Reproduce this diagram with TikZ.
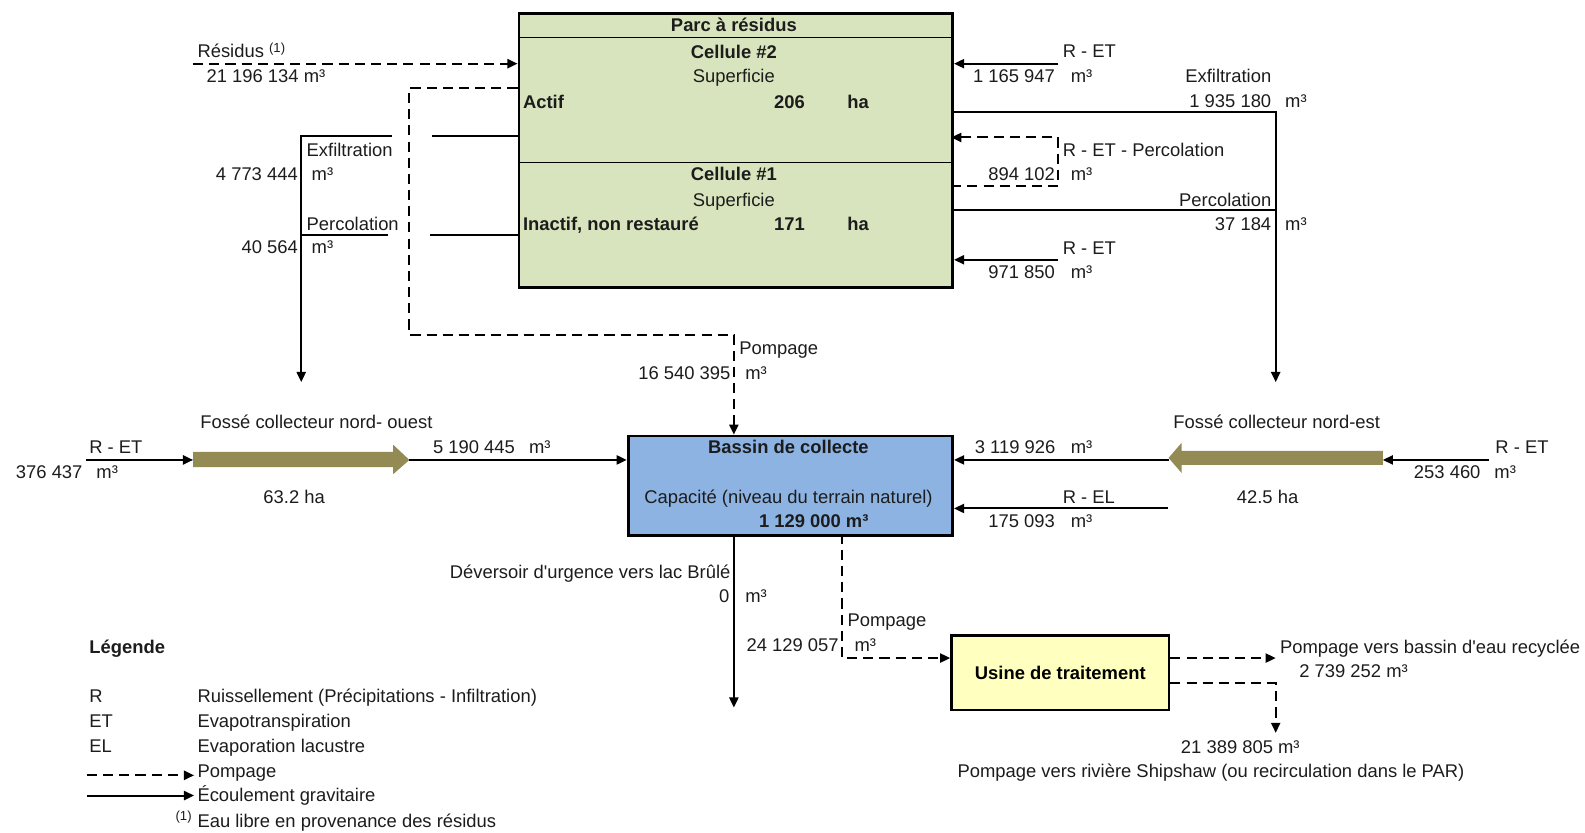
\documentclass[tikz,border=0pt]{standalone}
\usepackage{fontspec}
\setmainfont{Liberation Sans}[Ligatures=TeXOff]
\usetikzlibrary{arrows.meta}

\definecolor{vertparc}{HTML}{D7E4BD}
\definecolor{bleubassin}{HTML}{8DB3E2}
\definecolor{jauneusine}{HTML}{FFFFC0}
\definecolor{olivefosse}{HTML}{948A54}
\definecolor{encre}{HTML}{1C1C1C}

\newcommand{\fs}{\fontsize{9.1}{11}\selectfont}

\tikzset{
  ecoul/.style={-{Triangle[length=5pt,width=4.5pt]}, line width=1pt},
  pomp/.style={ecoul, dash pattern=on 5pt off 3pt},
  trait/.style={line width=1pt},
  boite/.style={draw, line width=1.4pt, inner sep=0pt, anchor=north west},
  lbl/.style={inner sep=0pt, text height=6.5pt, text depth=0.5pt, font=\fs, text=encre},
  gras/.style={lbl, font=\fs\bfseries},
}

\begin{document}
\begin{tikzpicture}[x=0.5pt, y=-0.5pt]
\useasboundingbox (0,0) rectangle (1568,824);

% Parc a residus (deux cellules)
\node[boite, fill=vertparc, minimum width=214.5pt, minimum height=135.5pt] (parc) at (512,12) {};
\draw[line width=0.6pt] (512,37) -- (941,37);
\draw[line width=0.6pt] (512,161) -- (941,161);
\node[gras] (titre) at (726,25) {Parc à résidus};
\node[gras] (cel2) at (726,52) {Cellule \#2};
\node[lbl] (sup2) at (726,76) {Superficie};
\node[gras, anchor=west] (actif) at (517,101) {Actif};
\node[gras] (s206) at (781,101) {206};
\node[gras] (ha2) at (849,101) {ha};
\node[gras] (cel1) at (726,173) {Cellule \#1};
\node[lbl] (sup1) at (726,198) {Superficie};
\node[gras, anchor=west] (inactif) at (517,222) {Inactif, non restauré};
\node[gras] (s171) at (781,222) {171};
\node[gras] (ha1) at (849,222) {ha};

% Bassin de collecte
\node[boite, fill=bleubassin, minimum width=160.5pt, minimum height=49pt] (bassin) at (620,430) {};
\node[gras] (bastit) at (780,443) {Bassin de collecte};
\node[lbl] (bascap) at (780,492) {Capacité (niveau du terrain naturel)};
\node[gras] (basvol) at (805,516) {1 129 000 m³};

% Usine de traitement
\node[boite, fill=jauneusine, minimum width=107.5pt, minimum height=37pt, font=\fs\bfseries] (usine) at (940,627) {Usine de traitement};

% Fosses collecteurs (grosses fleches)
\coordinate (fnoQ) at (191,455);
\coordinate (fnoT) at (405,455);
\fill[olivefosse] (191,447) -- (389,447) -- (389,440) -- (fnoT) -- (389,469) -- (389,462) -- (191,462) -- cycle;
\coordinate (fneQ) at (1368,453);
\coordinate (fneT) at (1156,453);
\fill[olivefosse] (1368,446) -- (1169,446) -- (1169,438) -- (fneT) -- (1169,468) -- (1169,460) -- (1368,460) -- cycle;

% Points de depart / d'arrivee
\coordinate (resA) at (191,63);
\coordinate (pompP) at (512,87);
\coordinate (pompB) at (726,430);
\coordinate (exfG) at (512,135);
\coordinate (perG) at (512,232);
\coordinate (chuteG) at (298,378);
\coordinate (retH) at (1047,63);
\coordinate (exfD) at (941,111);
\coordinate (perD) at (941,208);
\coordinate (chuteD) at (1262,378);
\coordinate (boucle) at (941,184);
\coordinate (retB) at (1047,257);
\coordinate (retNO) at (85,455);
\coordinate (retNE) at (1473,455);
\coordinate (relA) at (1155,503);
\coordinate (deversA) at (726,528);
\coordinate (deversF) at (726,700);
\coordinate (pompU) at (833,528);
\coordinate (recyF) at (1262,651);
\coordinate (shipF) at (1262,725);

% --- cote gauche
\draw[pomp] (resA) -- (resA -| parc.west);
\draw[pomp] (pompP) -- (405,87) -- (405,331) -- (726,331) -- (pompB);
\draw[trait] (exfG) -- (427,135);
\draw[ecoul] (388,135) -- (298,135) -- (chuteG);
\draw[trait] (perG) -- (425,232);
\draw[trait] (384,232) -- (298,232);

\node[lbl, anchor=west] (resL) at (195,51) {Résidus \raisebox{0.5ex}{\fontsize{6.5}{7}\selectfont(1)}};
\node[lbl, anchor=west] (resV) at (204,76) {21 196 134 m³};
\node[lbl, anchor=west] (exfGL) at (303,149) {Exfiltration};
\node[lbl, anchor=east] (exfGV) at (295,173) {4 773 444};
\node[lbl, anchor=west] (exfGU) at (308,173) {m³};
\node[lbl, anchor=west] (perGL) at (303,222) {Percolation};
\node[lbl, anchor=east] (perGV) at (295,245) {40 564};
\node[lbl, anchor=west] (perGU) at (308,245) {m³};
\node[lbl, anchor=west] (pompL) at (731,345) {Pompage};
\node[lbl, anchor=east] (pompV) at (723,369) {16 540 395};
\node[lbl, anchor=west] (pompU3) at (737,369) {m³};

% --- cote droit
\draw[ecoul] (retH) -- (retH -| parc.east);
\draw[ecoul] (exfD) -- (1262,111) -- (chuteD);
\draw[trait] (perD) -- (1262,208);
\draw[pomp] (boucle) -- (1047,184) -- (1047,136) -- (941,136);
\draw[ecoul] (retB) -- (retB -| parc.east);

\node[lbl, anchor=west] (retHL) at (1051,51) {R - ET};
\node[lbl, anchor=east] (retHV) at (1044,76) {1 165 947};
\node[lbl, anchor=west] (retHU) at (1059,76) {m³};
\node[lbl, anchor=east] (exfDL) at (1258,76) {Exfiltration};
\node[lbl, anchor=east] (exfDV) at (1258,100) {1 935 180};
\node[lbl, anchor=west] (exfDU) at (1271,100) {m³};
\node[lbl, anchor=west] (bouL) at (1051,149) {R - ET - Percolation};
\node[lbl, anchor=east] (bouV) at (1044,173) {894 102};
\node[lbl, anchor=west] (bouU) at (1059,173) {m³};
\node[lbl, anchor=east] (perDL) at (1258,198) {Percolation};
\node[lbl, anchor=east] (perDV) at (1258,222) {37 184};
\node[lbl, anchor=west] (perDU) at (1271,222) {m³};
\node[lbl, anchor=west] (retBL) at (1051,246) {R - ET};
\node[lbl, anchor=east] (retBV) at (1044,270) {971 850};
\node[lbl, anchor=west] (retBU) at (1059,270) {m³};

% --- rangee du bassin
\draw[ecoul] (retNO) -- (fnoQ);
\draw[ecoul] (fnoT) -- (fnoT -| bassin.west);
\draw[ecoul] (retNE) -- (fneQ |- retNE);
\draw[ecoul] (fneT |- 0,455) -- (bassin.east |- 0,455);
\draw[ecoul] (relA) -- (relA -| bassin.east);

\node[lbl] (fnoL) at (313,418) {Fossé collecteur nord- ouest};
\node[lbl] (fnoS) at (291,492) {63.2 ha};
\node[lbl, anchor=west] (retNOL) at (88,443) {R - ET};
\node[lbl, anchor=east] (retNOV) at (82,467) {376 437};
\node[lbl, anchor=west] (retNOU) at (95,467) {m³};
\node[lbl, anchor=west] (fnoV) at (428,443) {5 190 445};
\node[lbl, anchor=west] (fnoU) at (523,443) {m³};

\node[lbl] (fneL) at (1263,418) {Fossé collecteur nord-est};
\node[lbl] (fneS) at (1254,492) {42.5 ha};
\node[lbl, anchor=west] (retNEL) at (1479,443) {R - ET};
\node[lbl, anchor=east] (retNEV) at (1465,467) {253 460};
\node[lbl, anchor=west] (retNEU) at (1478,467) {m³};
\node[lbl, anchor=west] (fneV) at (964,443) {3 119 926};
\node[lbl, anchor=west] (fneU) at (1059,443) {m³};
\node[lbl, anchor=west] (relL) at (1051,492) {R - EL};
\node[lbl, anchor=east] (relV) at (1044,516) {175 093};
\node[lbl, anchor=west] (relU) at (1059,516) {m³};

% --- sorties du bassin et de l'usine
\draw[ecoul] (deversA) -- (deversF);
\draw[pomp] (pompU) -- (833,651) -- (usine.west |- 0,651);
\draw[pomp] (usine.east |- 0,651) -- (recyF);
\draw[pomp] (usine.east |- 0,676) -- (1262,676) -- (shipF);

\node[lbl, anchor=east] (devL) at (723,566) {Déversoir d'urgence vers lac Brûlé};
\node[lbl, anchor=east] (devV) at (722,590) {0};
\node[lbl, anchor=west] (devU) at (737,590) {m³};
\node[lbl, anchor=west] (pusL) at (838,614) {Pompage};
\node[lbl, anchor=east] (pusV) at (830,639) {24 129 057};
\node[lbl, anchor=west] (pusU) at (845,639) {m³};
\node[lbl, anchor=west] (recyL) at (1266,640) {Pompage vers bassin d'eau recyclée};
\node[lbl, anchor=west] (recyV) at (1285,664) {2 739 252 m³};
\node[lbl] (shipV) at (1227,739) {21 389 805 m³};
\node[lbl] (shipL) at (1198,763) {Pompage vers rivière Shipshaw (ou recirculation dans le PAR)};

% Legende
\node[gras, anchor=west] (leg) at (88,640) {Légende};
\foreach \ab/\txt/\yy [count=\i] in {R/Ruissellement (Précipitations - Infiltration)/689,
    ET/Evapotranspiration/714, EL/Evaporation lacustre/738} {
  \node[lbl, anchor=west] (legA\i) at (88,\yy) {\ab};
  \node[lbl, anchor=west] (legT\i) at (195,\yy) {\txt};
}
\coordinate (legP) at (86,767);
\coordinate (legE) at (86,787);
\draw[pomp] (legP) -- ++(106,0);
\draw[ecoul] (legE) -- ++(106,0);
\node[lbl, anchor=west] (legPL) at (195,763) {Pompage};
\node[lbl, anchor=west] (legEL) at (195,787) {Écoulement gravitaire};
\node[lbl, anchor=east, font=\fontsize{6.5}{7}\selectfont] (legN) at (190,806) {(1)};
\node[lbl, anchor=west] (legNL) at (195,813) {Eau libre en provenance des résidus};

\end{tikzpicture}
\end{document}
